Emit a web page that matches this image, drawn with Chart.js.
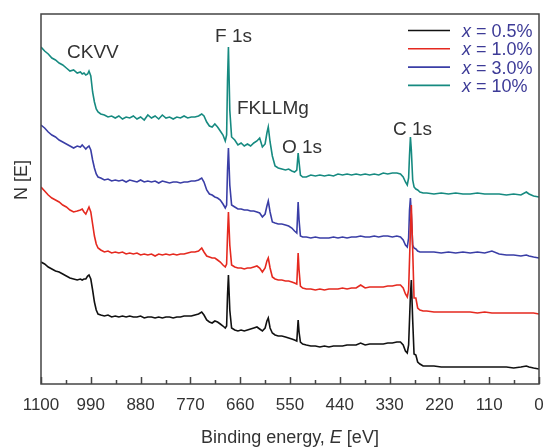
<!DOCTYPE html>
<html>
<head>
<meta charset="utf-8">
<script src="https://cdn.jsdelivr.net/npm/chart.js@4.4.1/dist/chart.umd.min.js"></script>
<style>
  html, body { margin: 0; padding: 0; background: #fff; }
  #wrap { width: 547px; height: 448px; }
</style>
</head>
<body>
<div id="wrap"><canvas id="xpsChart" width="547" height="448"></canvas></div>
<script>
// binding energy grid (eV), shared by all four survey spectra
var energy = [
    1100, 1092, 1084, 1076, 1068, 1060, 1052, 1044, 1036, 1028, 1020, 1013, 1009, 1005, 1001, 997, 994, 990, 986, 982, 978, 974,
    968, 960, 952, 944, 936, 928, 920, 912, 904, 896, 888, 880, 872, 864, 856, 848, 840, 832, 824, 816, 808, 800, 792, 784, 776, 768, 760,
    752, 745, 740, 734, 728, 722, 716, 710, 704, 698, 693, 690, 688, 686, 683, 679, 672, 665, 658, 651, 644, 637, 630, 623, 617, 611, 605, 601, 598, 594, 589, 583, 576, 568, 560, 553, 546, 540, 535, 532, 530, 527, 522,
    514, 504, 494, 484, 474, 464, 454, 444, 434, 424, 414, 404, 394, 384, 374, 364, 354, 344, 334, 324, 314, 306,
    300, 295, 291, 288, 286, 284, 282, 279, 276, 272, 268, 263, 256,
    248, 232, 216, 200, 184, 168, 152, 136, 120, 104, 88, 72, 56, 40, 28, 22, 12, 0
];

// intensities N(E), arbitrary units, spectra stacked with offsets
var n05 = [
    122, 120, 117, 115, 113, 112, 110, 108, 106, 105, 104, 105, 104, 105, 105, 108, 109, 105, 94, 82, 74, 70,
    69, 68, 69, 67, 68, 67, 68, 67, 68, 67, 67, 68, 66, 67, 67, 66, 67, 66, 67, 67, 66, 67, 67, 68, 68, 68, 69,
    70, 72, 69, 64, 62, 61, 63, 62, 60, 58, 56, 58, 89, 109, 74, 56, 54, 53, 54, 53, 54, 55, 56, 57, 55, 53, 56, 63, 66, 56, 51, 49, 48, 48, 47, 46, 45, 44, 43, 64, 52, 42, 40,
    39, 38, 38, 37, 38, 37, 38, 38, 38, 39, 39, 39, 41, 39, 40, 40, 40, 40, 41, 41, 42, 42,
    39, 33, 31, 39, 64, 89, 104, 64, 30, 29, 22, 20, 18,
    18, 18, 17, 17, 17, 17, 17, 17, 17, 17, 17, 17, 16, 17, 18, 17, 16, 15
];
var n10 = [
    197, 193, 189, 186, 184, 182, 179, 177, 174, 172, 173, 174, 175, 172, 170, 174, 177, 172, 160, 148, 140, 136,
    134, 132, 133, 131, 132, 131, 132, 130, 131, 130, 131, 129, 130, 129, 130, 128, 130, 129, 130, 129, 130, 129, 130, 130, 131, 132, 132,
    133, 136, 132, 128, 127, 126, 126, 124, 122, 119, 117, 120, 149, 172, 139, 119, 117, 116, 116, 115, 116, 116, 117, 118, 116, 112, 116, 123, 126, 116, 107, 105, 104, 104, 103, 103, 102, 101, 100, 131, 114, 98, 96,
    95, 95, 94, 95, 94, 95, 95, 95, 96, 95, 96, 96, 99, 96, 97, 97, 97, 97, 98, 98, 99, 99,
    96, 90, 87, 94, 124, 154, 179, 134, 86, 86, 76, 74, 73,
    73, 72, 72, 72, 72, 72, 72, 71, 72, 71, 71, 71, 71, 71, 71, 71, 71, 70
];
var n30 = [
    259, 256, 252, 249, 247, 244, 242, 240, 238, 236, 238, 237, 239, 237, 235, 237, 238, 234, 224, 216, 210, 207,
    206, 204, 205, 203, 204, 203, 204, 202, 204, 203, 202, 204, 202, 203, 202, 203, 201, 203, 202, 201, 202, 202, 201, 202, 202, 203, 203,
    204, 206, 202, 194, 190, 189, 187, 186, 184, 180, 176, 179, 214, 236, 199, 179, 177, 175, 175, 174, 174, 173, 173, 172, 171, 167, 170, 178, 183, 172, 162, 161, 160, 160, 159, 158, 156, 153, 151, 182, 164, 148, 147,
    147, 146, 147, 146, 146, 146, 147, 146, 147, 146, 147, 147, 148, 147, 147, 148, 147, 148, 148, 147, 148, 147,
    144, 139, 137, 146, 174, 186, 169, 139, 136, 135, 133, 132, 132,
    132, 132, 131, 132, 131, 132, 131, 132, 131, 133, 130, 129, 129, 128, 129, 128, 127, 126
];
var n100 = [
    337, 333, 330, 326, 324, 321, 319, 316, 313, 314, 311, 312, 310, 311, 309, 310, 313, 308, 292, 282, 275, 272,
    270, 269, 267, 268, 266, 268, 265, 267, 266, 268, 265, 267, 264, 269, 266, 268, 265, 269, 266, 267, 265, 267, 266, 268, 266, 267, 267,
    268, 270, 268, 262, 258, 257, 260, 257, 253, 249, 243, 249, 304, 337, 274, 247, 244, 239, 241, 238, 240, 238, 241, 243, 246, 237, 240, 251, 257, 242, 228, 218, 216, 215, 214, 215, 213, 212, 214, 231, 222, 209, 207,
    207, 209, 208, 209, 208, 209, 208, 210, 209, 210, 209, 210, 209, 210, 209, 210, 209, 211, 210, 211, 211, 210,
    207, 202, 199, 206, 229, 247, 234, 204, 197, 195, 194, 192, 191,
    191, 190, 191, 190, 191, 190, 190, 191, 190, 190, 190, 189, 190, 189, 192, 190, 188, 187
];

var seriesLabels = ["0.5%", "1.0%", "3.0%", "10%"];
var seriesColors = ["#111111", "#e5291f", "#3a3ea6", "#168a80"];
var xTicks = [1100, 990, 880, 770, 660, 550, 440, 330, 220, 110, 0];

var peakLabels = [
    { text: "CKVV", x: 67, y: 58 },
    { text: "F 1s", x: 215, y: 42 },
    { text: "FKLLMg", x: 237, y: 114 },
    { text: "O 1s", x: 282, y: 153 },
    { text: "C 1s", x: 393, y: 135 }
];

var FONT = '"Liberation Sans", Arial, sans-serif';
var INK = "#333333";

function toPoints(vals) {
    return energy.map(function (e, i) { return { x: e, y: vals[i] }; });
}

var datasets = [n05, n10, n30, n100].map(function (vals, i) {
    return {
        label: "x = " + seriesLabels[i],
        data: toPoints(vals),
        borderColor: seriesColors[i],
        borderWidth: 1.6,
        pointRadius: 0,
        tension: 0,
        fill: false
    };
});

// frame, inward ticks, axis titles, peak names and legend
var decorations = {
    id: "decorations",
    afterDraw: function (chart) {
        var ctx = chart.ctx;
        var area = chart.chartArea;
        var xs = chart.scales.x;
        ctx.save();

        ctx.strokeStyle = "#444";
        ctx.lineWidth = 1.5;
        ctx.strokeRect(area.left, area.top, area.right - area.left, area.bottom - area.top);

        ctx.beginPath();
        for (var v = 0; v <= 1100; v += 55) {
            var px = Math.round(xs.getPixelForValue(v)) + 0.5;
            var len = (v % 110 === 0) ? 7 : 4;
            ctx.moveTo(px, area.bottom);
            ctx.lineTo(px, area.bottom - len);
        }
        ctx.stroke();

        ctx.fillStyle = INK;
        ctx.textBaseline = "alphabetic";
        ctx.textAlign = "left";
        ctx.font = "19px " + FONT;
        peakLabels.forEach(function (p) { ctx.fillText(p.text, p.x, p.y); });

        // x axis title with italic E
        var cx = (area.left + area.right) / 2;
        var partA = "Binding energy, ", partB = "E", partC = " [eV]";
        ctx.font = "18px " + FONT;
        var wA = ctx.measureText(partA).width, wC = ctx.measureText(partC).width;
        ctx.font = "italic 18px " + FONT;
        var wB = ctx.measureText(partB).width;
        var x0 = cx - (wA + wB + wC) / 2;
        ctx.font = "18px " + FONT;
        ctx.fillText(partA, x0, 443);
        ctx.font = "italic 18px " + FONT;
        ctx.fillText(partB, x0 + wA, 443);
        ctx.font = "18px " + FONT;
        ctx.fillText(partC, x0 + wA + wB, 443);

        // y axis title
        ctx.save();
        ctx.translate(27, 180);
        ctx.rotate(-Math.PI / 2);
        ctx.textAlign = "center";
        ctx.font = "18px " + FONT;
        ctx.fillText("N [E]", 0, 0);
        ctx.restore();

        // legend
        chart.data.datasets.forEach(function (ds, i) {
            var base = 37 + i * 18.3;
            ctx.strokeStyle = ds.borderColor;
            ctx.lineWidth = 1.6;
            ctx.beginPath();
            ctx.moveTo(408, base - 6.5);
            ctx.lineTo(450, base - 6.5);
            ctx.stroke();
            ctx.fillStyle = "#3d3b97";
            ctx.font = "italic 18px " + FONT;
            ctx.fillText("x", 462, base);
            var wx = ctx.measureText("x").width;
            ctx.font = "18px " + FONT;
            ctx.fillText(" = " + seriesLabels[i], 462 + wx, base);
        });

        ctx.restore();
    }
};

new Chart(document.getElementById("xpsChart"), {
    type: "line",
    data: { datasets: datasets },
    options: {
        responsive: false,
        animation: false,
        layout: { padding: { left: 41, right: 8, top: 14, bottom: 0 } },
        plugins: { legend: { display: false }, tooltip: { enabled: false } },
        scales: {
            x: {
                type: "linear",
                reverse: true,
                min: 0,
                max: 1100,
                afterBuildTicks: function (scale) {
                    scale.ticks = xTicks.map(function (v) { return { value: v }; });
                },
                afterFit: function (scale) {
                    scale.height = 64;
                    scale.paddingLeft = 0;
                    scale.paddingRight = 0;
                },
                grid: { display: false, drawTicks: false },
                border: { display: false },
                ticks: {
                    padding: 11,
                    color: INK,
                    font: { family: FONT, size: 17 },
                    maxRotation: 0,
                    autoSkip: false,
                    callback: function (value) { return String(value); }
                }
            },
            y: {
                display: false,
                min: 0,
                max: 370
            }
        }
    },
    plugins: [decorations]
});
</script>
</body>
</html>
